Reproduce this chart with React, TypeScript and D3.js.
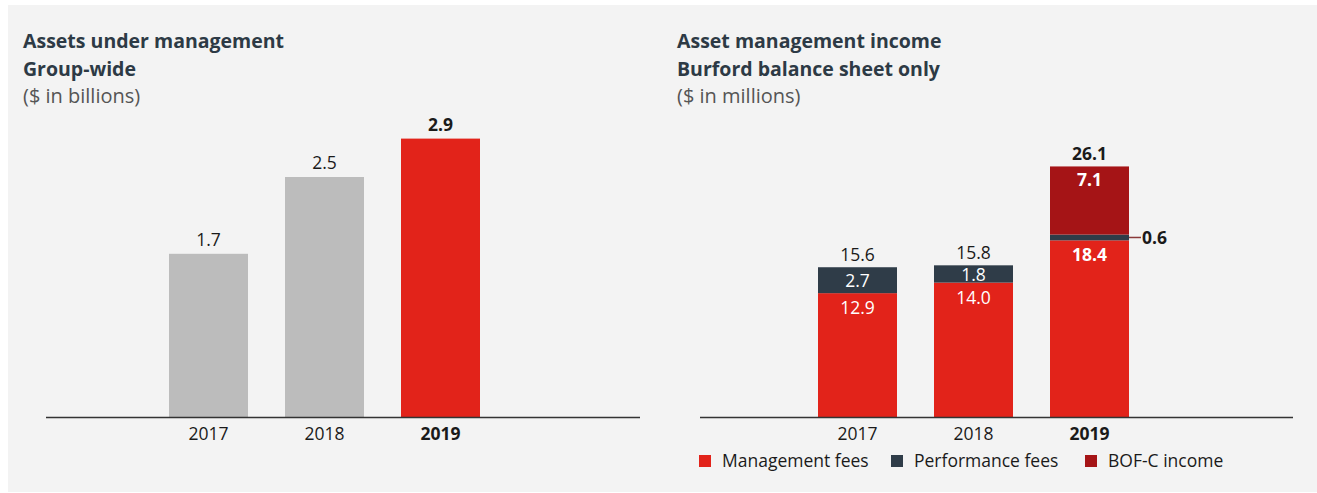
import React from "react";
import * as d3 from "d3";

const years = ["2017", "2018", "2019"];
const aum = [1.7, 2.5, 2.9];
const mgmtFees = [12.9, 14.0, 18.4];
const perfFees = [2.7, 1.8, 0.6];
const bofcIncome = [0, 0, 7.1];
const totals = [15.6, 15.8, 26.1];
const seriesNames = ["Management fees", "Performance fees", "BOF-C income"];

const RED = "#e2231a";
const SLATE = "#2f3c48";
const DARKRED = "#a51416";
const GRAY = "#bcbcbc";
const FONT = "'Open Sans', Lato, sans-serif";
const TITLE = "#2d3a45";

export default function App() {
  const baseY = 417;
  // left chart
  const xL = d3.scaleBand().domain(years).range([169, 480]).paddingInner(37 / 116).paddingOuter(0);
  const yL = d3.scaleLinear().domain([0, 1]).range([baseY, baseY - 96]);
  // right chart
  const xR = d3.scaleBand().domain(years).range([818, 1129]).paddingInner(37 / 116).paddingOuter(0);
  const yR = d3.scaleLinear().domain([0, 10]).range([baseY, baseY - 96]);

  const stackData = years.map((y, i) => ({ year: y, m: mgmtFees[i], p: perfFees[i], b: bofcIncome[i] }));
  const stack = d3.stack<any>().keys(["m", "p", "b"])(stackData);
  const colors = [RED, SLATE, DARKRED];
  const vfs = 17.5;
  const tfs = 19.5;

  return (
    <svg width={1317} height={493} style={{ position: "absolute", left: 0, top: 0 }} fontFamily={FONT}>
      <rect x={8} y={5} width={1309} height={487} fill="#f3f3f3" />
      {/* Left titles */}
      <text x={23} y={48} fontSize={tfs} fontWeight={700} fill={TITLE}>Assets under management</text>
      <text x={23} y={76} fontSize={tfs} fontWeight={700} fill={TITLE}>Group-wide</text>
      <text x={23} y={103} fontSize={20} fill="#555">($ in billions)</text>
      {/* Right titles */}
      <text x={677} y={48} fontSize={tfs} fontWeight={700} fill={TITLE}>Asset management income</text>
      <text x={677} y={76} fontSize={tfs} fontWeight={700} fill={TITLE}>Burford balance sheet only</text>
      <text x={677} y={103} fontSize={20} fill="#555">($ in millions)</text>

      {/* Left bars */}
      {years.map((y, i) => (
        <g key={y}>
          <rect x={xL(y)} y={yL(aum[i])} width={xL.bandwidth()} height={baseY - yL(aum[i])} fill={i === 2 ? RED : GRAY} />
          <text x={xL(y)! + xL.bandwidth() / 2} y={yL(aum[i]) - 8} textAnchor="middle" fontSize={vfs}
            fontWeight={i === 2 ? 700 : 400} fill="#1a1a1a">{aum[i].toFixed(1)}</text>
          <text x={xL(y)! + xL.bandwidth() / 2} y={440} textAnchor="middle" fontSize={vfs}
            fontWeight={i === 2 ? 700 : 400} fill="#1a1a1a">{y}</text>
        </g>
      ))}
      <line x1={46} x2={640} y1={baseY + 0.5} y2={baseY + 0.5} stroke="#333" strokeWidth={1.5} />

      {/* Right stacked bars */}
      {stack.map((s, k) => (
        <g key={k}>
          {s.map((d, i) => d[1] - d[0] > 0 ? (
            <rect key={i} x={xR(years[i])} y={yR(d[1])} width={xR.bandwidth()} height={yR(d[0]) - yR(d[1])} fill={colors[k]} />
          ) : null)}
        </g>
      ))}
      {years.map((y, i) => {
        const cx = xR(y)! + xR.bandwidth() / 2;
        const bold = i === 2 ? 700 : 400;
        const perfMid = (yR(mgmtFees[i]) + yR(mgmtFees[i] + perfFees[i])) / 2;
        return (
          <g key={y}>
            <text x={cx} y={yR(totals[i]) - 6} textAnchor="middle" fontSize={vfs} fontWeight={bold} fill="#1a1a1a">{totals[i].toFixed(1)}</text>
            <text x={cx} y={yR(mgmtFees[i]) + 21} textAnchor="middle" fontSize={vfs} fontWeight={bold} fill="#fff">{mgmtFees[i].toFixed(1)}</text>
            {i < 2 ? (
              <text x={cx} y={perfMid + 7} textAnchor="middle" fontSize={vfs} fill="#fff">{perfFees[i].toFixed(1)}</text>
            ) : (
              <>
                <line x1={xR(y)! + xR.bandwidth()} x2={xR(y)! + xR.bandwidth() + 12}
                  y1={perfMid} y2={perfMid} stroke="#8a3a3a" strokeWidth={1.5} />
                <text x={xR(y)! + xR.bandwidth() + 13} y={perfMid + 6.5}
                  fontSize={vfs} fontWeight={700} fill="#1a1a1a">{perfFees[i].toFixed(1)}</text>
                <text x={cx} y={yR(mgmtFees[i] + perfFees[i] + bofcIncome[i]) + 20} textAnchor="middle" fontSize={vfs} fontWeight={700} fill="#fff">{bofcIncome[i].toFixed(1)}</text>
              </>
            )}
            <text x={cx} y={440} textAnchor="middle" fontSize={vfs} fontWeight={bold} fill="#1a1a1a">{y}</text>
          </g>
        );
      })}
      <line x1={700} x2={1293} y1={baseY + 0.5} y2={baseY + 0.5} stroke="#333" strokeWidth={1.5} />

      {/* Legend */}
      {seriesNames.map((n, k) => {
        const lx = [699, 891, 1085][k];
        return (
          <g key={n}>
            <rect x={lx} y={455} width={12} height={12} fill={colors[k]} />
            <text x={lx + 23} y={467} fontSize={vfs} fill="#1a1a1a">{n}</text>
          </g>
        );
      })}
    </svg>
  );
}
